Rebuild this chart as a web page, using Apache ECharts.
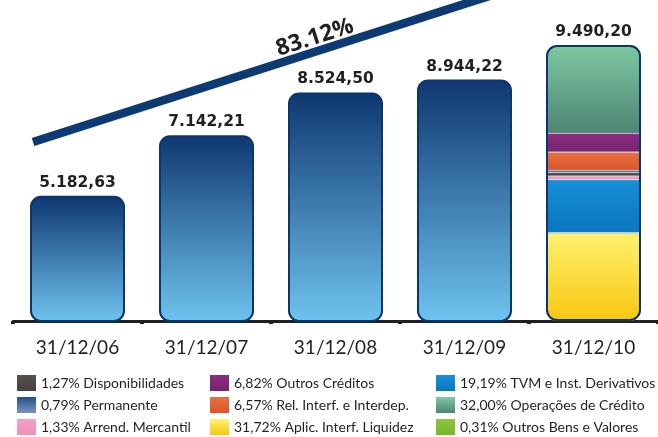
<!DOCTYPE html>
<html>
<head>
<meta charset="utf-8">
<script src="https://cdn.jsdelivr.net/npm/echarts@6/dist/echarts.min.js"></script>
<style>
  html, body { margin: 0; padding: 0; background: #fff; }
  #chart { width: 658px; height: 437px; }
</style>
</head>
<body>
<div id="chart"></div>
<script>
// totals per date (R$ milhões)
const categories = ['31/12/06', '31/12/07', '31/12/08', '31/12/09', '31/12/10'];
const totals = [5182.63, 7142.21, 8524.50, 8944.22, 9490.20];

// composition of the last bar, bottom to top (percent)
const compNames = [
  'Aplic. Interf. Liquidez',
  'Outros Bens e Valores',
  'TVM e Inst. Derivativos',
  'Arrend. Mercantil',
  'Disponibilidades',
  'Permanente',
  'Rel. Interf. e Interdep.',
  'Outros Créditos',
  'Operações de Crédito'
];
const compPct = [31.72, 0.31, 19.19, 1.33, 1.27, 0.79, 6.57, 6.82, 32.00];
const compColors = [
  ['#fff171', '#f8c70f'],
  ['#8cc63f', '#79b52c'],
  ['#1690d8', '#0a76be'],
  ['#f4a0c6', '#ef8fba'],
  ['#55514d', '#45413e'],
  ['#234f8c', '#7a93c0'],
  ['#e8703f', '#dc552b'],
  ['#8c2c80', '#74266f'],
  ['#7ec8a2', '#4d8573']
];

// legend columns (indices into compNames)
const legendCols = [[4, 5, 3], [7, 6, 0], [2, 8, 1]];
const legendLeft = [17, 210, 436];

const fmt = v => {
  const [i, d] = v.toFixed(2).split('.');
  return i.replace(/\B(?=(\d{3})+(?!\d))/g, '.') + ',' + d;
};
const pctName = i => compPct[i].toFixed(2).replace('.', ',') + '% ' + compNames[i];
const growth = ((totals[totals.length - 1] / totals[0] - 1) * 100).toFixed(2) + '%';

const grad = (a, b) => new echarts.graphic.LinearGradient(0, 0, 0, 1, [
  { offset: 0, color: a }, { offset: 1, color: b }
]);

const labelStyle = {
  show: true,
  position: 'top',
  distance: 5,
  fontFamily: 'DejaVu Sans',
  fontWeight: 'bold',
  fontSize: 15.5,
  color: '#231f20'
};

const chart = echarts.init(document.getElementById('chart'));

const last = categories.length - 1;
const compSeries = compPct.map((p, i) => ({
  name: pctName(i),
  type: 'bar',
  stack: 'comp',
  yAxisIndex: 1,
  barWidth: 95,
  barGap: '-100%',
  silent: true,
  data: categories.map((c, k) => (k === last ? p : null)),
  itemStyle: {
    color: grad(compColors[i][0], compColors[i][1]),
    borderColor: 'rgba(200,200,200,0.6)',
    borderWidth: 0.6,
    borderRadius: i === compPct.length - 1 ? [10, 10, 0, 0] : (i === 0 ? [0, 0, 10, 10] : 0)
  }
}));

const option = {
  animation: false,
  grid: { left: 13, width: 647, top: 45, bottom: 116 },
  legend: legendCols.map((col, c) => ({
    orient: 'vertical',
    left: legendLeft[c],
    top: 375,
    height: 70,
    padding: 0,
    itemGap: 6,
    itemWidth: 19,
    itemHeight: 16,
    icon: 'rect',
    itemStyle: { borderWidth: 0 },
    selectedMode: false,
    data: col.map(pctName),
    textStyle: { fontFamily: 'Lato', fontSize: 14, color: '#231f20' }
  })),
  xAxis: {
    type: 'category',
    data: categories,
    offset: 11,
    axisLine: { lineStyle: { color: '#231f20', width: 3 } },
    axisTick: { show: true, length: 3, lineStyle: { color: '#231f20', width: 4 } },
    axisLabel: { fontFamily: 'Lato', fontSize: 19, color: '#231f20', margin: 6 }
  },
  yAxis: [
    { type: 'value', min: 1130, max: 10060, show: false },
    { type: 'value', min: 0, max: 100, show: false }
  ],
  series: [
    {
      name: 'Total',
      type: 'bar',
      yAxisIndex: 0,
      barWidth: 95,
      barGap: '-100%',
      data: totals.map((v, k) => (k === last ? null : v)),
      itemStyle: {
        color: grad('#0e3770', '#6fc3ef'),
        borderColor: '#0c356c',
        borderWidth: 2,
        borderRadius: 10
      },
      label: { ...labelStyle, formatter: p => fmt(p.value) },
      markLine: {
        silent: true,
        symbol: ['none', 'none'],
        lineStyle: { color: '#0d3a72', width: 8.5, type: 'solid' },
        label: {
          show: true,
          position: 'middle',
          formatter: growth,
          fontFamily: 'Open Sans',
          fontWeight: 'bold',
          fontSize: 23,
          color: '#231f20',
          distance: 2
        },
        data: [[{ x: 33, y: 142 }, { x: 605, y: -41 }]]
      }
    },
    ...compSeries,
    {
      name: 'frame',
      type: 'bar',
      yAxisIndex: 1,
      barWidth: 95,
      barGap: '-100%',
      silent: true,
      data: categories.map((c, k) => (k === last ? 100 : null)),
      itemStyle: {
        color: 'rgba(0,0,0,0)',
        borderColor: '#0c356c',
        borderWidth: 2,
        borderRadius: 10
      },
      label: { ...labelStyle, formatter: p => fmt(totals[p.dataIndex]) }
    }
  ]
};

chart.setOption(option);
</script>
</body>
</html>
